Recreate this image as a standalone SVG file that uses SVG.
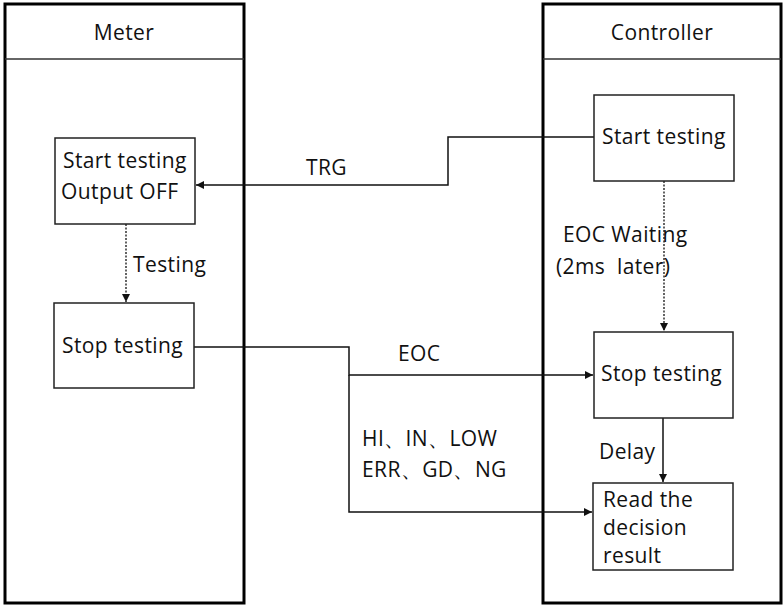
<svg xmlns="http://www.w3.org/2000/svg" width="784" height="606" viewBox="0 0 784 606">
<style>
.lane{fill:#fff;stroke:#000;stroke-width:3}
.hdr{stroke:#333;stroke-width:1.5}
.box{fill:#fff;stroke:#222;stroke-width:1.5}
.t{font-family:"Open Sans","Liberation Sans",sans-serif;font-size:21px;fill:#111;letter-spacing:0.4px;white-space:pre}
.ln{fill:none;stroke:#111;stroke-width:1.5}
.dot{fill:none;stroke:#111;stroke-width:1.3;stroke-dasharray:2,1.5}
</style>
<defs>
<marker id="ah" viewBox="0 0 10 10" refX="10" refY="5" markerWidth="8" markerHeight="8" markerUnits="userSpaceOnUse" orient="auto">
<path d="M0,0 L10,5 L0,10 z" fill="#111"/>
</marker>
</defs>
<g id="lane-meter">
<rect class="lane" x="5" y="4" width="239" height="599"/>
<line class="hdr" x1="5" y1="59" x2="244" y2="59"/>
<text class="t" x="124" y="40" text-anchor="middle">Meter</text>
</g>
<g id="lane-controller">
<rect class="lane" x="543" y="4" width="238" height="599"/>
<line class="hdr" x1="543" y1="59" x2="781" y2="59"/>
<text class="t" x="662" y="40" text-anchor="middle">Controller</text>
</g>
<g id="connectors">
<polyline class="ln" points="594,137 448,137 448,185 196,185" marker-end="url(#ah)"/>
<line class="dot" x1="126" y1="224" x2="126" y2="302" marker-end="url(#ah)"/>
<polyline class="ln" points="194,347 349,347 349,375 593,375" marker-end="url(#ah)"/>
<polyline class="ln" points="349,375 349,512 592,512" marker-end="url(#ah)"/>
<line class="dot" x1="664" y1="181" x2="664" y2="331" marker-end="url(#ah)"/>
<line class="ln" x1="663" y1="418" x2="663" y2="482" marker-end="url(#ah)"/>
<text class="t" x="306" y="175">TRG</text>
<text class="t" x="133" y="272">Testing</text>
<text class="t" x="398" y="361">EOC</text>
<text class="t" x="362" y="446">HI、IN、LOW</text>
<text class="t" x="362" y="477">ERR、GD、NG</text>
<text class="t" x="563" y="242">EOC Waiting</text>
<text class="t" x="556" y="274" xml:space="preserve">(2ms  later)</text>
<text class="t" x="599" y="459">Delay</text>
</g>
<g id="meter-start">
<rect class="box" x="55" y="138" width="140" height="86"/>
<text class="t" x="63" y="168">Start testing</text>
<text class="t" x="61" y="199">Output OFF</text>
</g>
<g id="meter-stop">
<rect class="box" x="54" y="303" width="140" height="85"/>
<text class="t" x="62" y="353">Stop testing</text>
</g>
<g id="ctrl-start">
<rect class="box" x="594" y="95" width="140" height="86"/>
<text class="t" x="602" y="144">Start testing</text>
</g>
<g id="ctrl-stop">
<rect class="box" x="594" y="332" width="139" height="86"/>
<text class="t" x="601" y="381">Stop testing</text>
</g>
<g id="ctrl-read">
<rect class="box" x="593" y="483" width="140" height="87"/>
<text class="t" x="603" y="507">Read the</text>
<text class="t" x="603" y="535">decision</text>
<text class="t" x="603" y="563">result</text>
</g>
</svg>
